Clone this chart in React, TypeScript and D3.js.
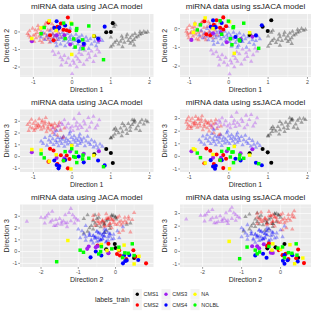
import React from "react";
import * as d3 from "d3";

type P3 = [number, number, number];

// ---------- JACA model: training samples (triangles) ----------
const jacaTrainCMS1: P3[] = [
  [1.0,-0.85,1.55],[1.05,-0.75,1.7],[1.1,-0.6,1.9],[1.0,-0.3,1.6],[1.08,0.3,2.3],[1.12,0.4,2.4],
  [1.15,-0.5,2.2],[1.2,-0.7,2.0],[1.25,-0.55,2.4],[1.3,-0.4,2.1],[1.35,-0.6,2.6],[1.4,-0.3,2.3],
  [1.45,-0.5,2.8],[1.5,-0.35,2.5],[1.55,-0.2,2.7],[1.6,-0.45,2.9],[1.62,-0.1,3.0],[1.7,-0.25,2.6],
  [1.75,0.0,2.9],[1.8,-0.1,3.1],[1.85,0.02,2.75],[1.9,-0.05,3.05],[1.95,0.0,2.95],[1.3,-0.85,2.8],
  [1.5,-0.65,2.2],[1.65,-0.3,2.35],[1.42,-0.15,1.95],[1.28,-0.25,1.75],[1.75,-0.15,2.2],[1.55,-0.55,3.1],
  [1.6,-0.75,3.1],
];
const jacaTrainCMS2: P3[] = [
  [-1.15,-0.1,2.7],[-1.1,0.05,2.9],[-1.08,-0.3,2.5],[-1.05,-0.45,3.15],[-1.02,0.2,2.4],[-1.0,-0.2,2.8],
  [-0.98,-0.55,2.2],[-0.95,0.1,3.0],[-0.93,-0.35,2.65],[-0.9,-0.05,2.45],[-0.88,0.35,2.75],[-0.85,-0.25,3.2],
  [-0.83,-0.5,2.55],[-0.8,0.0,2.3],[-0.78,-0.15,2.9],[-0.75,0.25,2.6],[-0.73,-0.4,2.4],[-0.7,-0.1,2.75],
  [-0.68,0.5,3.3],[-0.66,-0.3,2.1],[-0.63,0.1,2.5],[-0.6,-0.2,2.85],[-0.58,-0.6,2.7],[-0.55,0.15,2.25],
  [-0.53,-0.35,2.6],[-0.5,-0.1,2.0],[-0.48,0.3,2.45],[-0.45,-0.25,2.8],[-0.43,0.05,2.3],[-0.4,-0.45,2.55],
  [-0.38,0.2,1.8],[-0.35,-0.05,2.65],[-0.3,-0.3,2.2],[-0.25,0.1,1.6],[-0.2,-0.15,2.4],[-0.22,0.4,1.65],
  [-0.95,-0.15,2.35],[-0.87,0.15,2.6],[-0.7,0.35,2.95],[-0.62,-0.45,2.35],[-1.12,-0.2,2.2],[-0.77,-0.6,3.05],
  [-0.52,0.45,2.7],[-0.33,0.25,2.9],
];
const jacaTrainCMS3: P3[] = [
  [-0.5,-1.1,2.4],[-0.45,-1.3,2.1],[-0.35,-1.2,2.6],[-0.3,-1.45,2.3],[-0.25,-1.6,2.7],[-0.2,-1.35,3.1],
  [-0.15,-1.75,2.5],[-0.1,-1.5,2.8],[-0.05,-1.9,2.4],[0.0,-2.38,2.55],[0.02,-1.65,2.2],[0.05,-1.8,3.2],
  [0.1,-1.4,2.6],[0.12,-2.0,2.9],[0.15,-1.55,2.35],[0.18,-1.2,3.65],[0.2,-1.7,2.65],[0.25,-1.3,2.45],
  [0.3,-1.85,3.0],[0.33,-1.05,2.75],[0.38,-1.6,2.2],[0.42,-1.25,3.3],[0.45,-1.45,2.5],[0.5,-1.1,2.9],
  [0.55,-1.7,3.4],[0.6,-1.35,2.4],[0.65,-1.0,2.65],[0.7,-1.15,3.1],[-0.28,-1.9,2.85],
];
const jacaTrainCMS4: P3[] = [
  [-0.8,-0.3,1.3],[-0.75,-0.05,1.1],[-0.7,-0.45,1.6],[-0.65,-0.2,0.95],[-0.6,-0.35,1.4],[-0.57,0.05,1.75],
  [-0.55,-0.55,1.2],[-0.5,-0.15,1.5],[-0.48,-0.4,1.0],[-0.45,-0.25,1.85],[-0.42,-0.6,1.35],[-0.4,0.1,1.15],
  [-0.37,-0.3,1.6],[-0.35,-0.45,0.9],[-0.32,-0.15,1.3],[-0.3,-0.7,1.55],[-0.27,-0.35,1.1],[-0.25,-0.05,1.45],
  [-0.22,-0.5,1.7],[-0.2,-0.25,0.85],[-0.18,-0.8,1.25],[-0.15,-0.4,1.5],[-0.12,-0.1,1.05],[-0.1,-0.6,1.35],
  [-0.07,-0.3,1.9],[-0.05,-0.45,1.15],[-0.02,-0.2,1.6],[0.0,-0.65,1.0],[0.03,-0.35,1.4],[0.05,-0.9,1.75],
  [0.08,-0.5,1.2],[0.1,-0.15,1.5],[0.13,-0.4,0.95],[0.15,-0.7,1.35],[0.18,-0.3,1.65],[0.2,-0.55,1.1],
  [0.23,-0.85,1.45],[0.25,-0.2,1.25],[0.3,-0.45,1.55],[0.33,-0.65,0.9],[0.36,-0.3,1.3],[0.4,-0.5,1.7],
  [0.43,-0.95,1.15],[0.47,-0.4,1.0],[0.5,-0.7,1.4],[0.55,-0.25,0.8],[0.58,-0.55,1.25],[0.62,-0.8,0.95],
  [0.67,-0.6,0.7],[0.72,-0.35,1.05],[0.78,-0.5,0.85],[-0.05,0.2,2.1],[0.2,-1.0,1.9],[-0.4,-0.8,2.2],
];
// ---------- JACA model: test samples (labels_train) ----------
const jacaTestCMS1: P3[] = [[0.57,-0.25,0.2],[0.88,-0.02,0.65],[1.0,0.0,0.3],[1.05,0.5,-0.55]];
const jacaTestCMS2: P3[] = [
  [-0.11,0.82,-1.0],[-0.61,0.53,-0.43],[-0.29,0.48,0.12],[-0.07,0.04,-0.2],[-0.57,-0.19,0.66],
  [-0.48,-0.48,0.51],[-0.38,0.29,-0.63],[-0.22,0.12,-0.34],[-0.14,0.1,0.09],
];
const jacaTestCMS3: P3[] = [[-1.04,-0.53,0.37],[-0.4,-0.19,-0.11],[-0.05,-0.72,0.43],[0.3,-0.76,0.23],[0.69,-0.48,0.46],[-0.2,-0.19,-0.14]];
const jacaTestCMS4: P3[] = [
  [-0.4,0.61,-0.71],[-0.46,0.23,-0.34],[-0.35,0.2,-1.0],[-0.33,0.26,-0.8],[0.17,-0.53,0.0],
  [0.84,0.3,-0.75],[0.67,-0.38,-0.34],[0.3,-0.67,-0.49],[-0.18,0.37,-0.3],
];
const jacaTestNA: P3[] = [[-0.01,-1.28,0.94],[-1.04,-0.38,0.6],[-0.59,0.63,-0.4],[-0.8,0.23,0.55],[-0.41,0.08,0.15],[0.56,-0.23,0.09],[-0.03,0.5,-1.05]];
const jacaTestNOLBL: P3[] = [
  [-0.8,-0.1,0.23],[-0.72,0.25,-0.11],[-0.22,0.5,-0.34],[-0.01,0.45,0.66],[0.12,0.19,-0.51],[-0.18,-0.38,0.42],
  [0.04,-0.4,0.0],[0.08,-0.86,-0.06],[0.27,-0.45,-0.2],[0.43,0.34,-0.14],[0.28,-0.95,0.12],[0.81,-1.58,-0.86],[0.11,0.09,0.37],
];

// ---------- ssJACA model: training samples ----------
const ssTrainCMS1: P3[] = [
  [1.0,-0.95,1.6],[1.05,-0.8,1.75],[1.1,-0.65,1.95],[1.0,-0.4,1.65],[1.08,-0.2,2.2],[1.12,-0.1,2.35],
  [1.15,-0.55,2.15],[1.2,-0.75,2.0],[1.25,-0.6,2.35],[1.3,-0.45,2.1],[1.35,-0.65,2.55],[1.4,-0.35,2.25],
  [1.45,-0.55,2.7],[1.5,-0.4,2.45],[1.55,-0.25,2.65],[1.6,-0.5,2.85],[1.62,-0.15,2.95],[1.7,-0.3,2.55],
  [1.75,-0.05,2.85],[1.8,-0.15,3.0],[1.85,0.0,2.7],[1.9,-0.1,3.0],[1.95,-0.05,2.9],[1.3,-0.9,2.75],
  [1.5,-0.7,2.2],[1.65,-0.35,2.3],[1.42,-0.2,1.95],[1.28,-0.3,1.75],[1.75,-0.2,2.2],[1.55,-0.6,3.05],
  [1.6,-0.8,2.95],
];
const ssTrainCMS2: P3[] = [
  [-1.08,-0.15,2.7],[-1.06,0.0,2.9],[-1.04,-0.35,2.5],[-1.02,-0.5,3.1],[-1.0,0.15,2.4],[-0.98,-0.25,2.8],
  [-0.96,-0.6,2.2],[-0.93,0.05,3.0],[-0.91,-0.4,2.65],[-0.88,-0.1,2.45],[-0.86,0.3,2.75],[-0.84,-0.3,3.15],
  [-0.82,-0.55,2.55],[-0.8,-0.05,2.3],[-0.78,-0.2,2.9],[-0.75,0.2,2.6],[-0.73,-0.45,2.4],[-0.7,-0.15,2.75],
  [-0.68,0.35,3.2],[-0.66,-0.35,2.1],[-0.63,0.05,2.5],[-0.6,-0.25,2.85],[-0.58,-0.6,2.7],[-0.55,0.1,2.25],
  [-0.53,-0.4,2.6],[-0.5,-0.15,2.0],[-0.48,0.25,2.45],[-0.45,-0.3,2.8],[-0.43,0.0,2.3],[-0.4,-0.5,2.55],
  [-0.38,0.15,1.85],[-0.35,-0.1,2.65],[-0.3,-0.35,2.2],[-0.25,0.05,1.7],[-0.2,-0.2,2.4],[-0.22,0.3,1.75],
  [-0.95,-0.2,2.35],[-0.87,0.1,2.6],[-0.7,0.3,2.95],[-0.62,-0.5,2.35],[-1.05,-0.25,2.2],[-0.77,-0.6,3.0],
  [-0.52,0.35,2.7],[-0.33,0.2,2.9],
];
const ssTrainCMS3: P3[] = [
  [-0.45,-1.15,2.45],[-0.4,-1.35,2.2],[-0.32,-1.25,2.6],[-0.27,-1.5,2.35],[-0.22,-1.65,2.7],[-0.17,-1.4,3.05],
  [-0.12,-1.8,2.5],[-0.08,-1.55,2.8],[-0.03,-1.95,2.4],[0.02,-2.42,2.55],[0.04,-1.7,2.25],[0.07,-1.85,3.15],
  [0.12,-1.45,2.6],[0.14,-2.05,2.85],[0.17,-1.6,2.35],[0.2,-1.25,3.48],[0.22,-1.75,2.65],[0.27,-1.35,2.45],
  [0.32,-1.9,2.95],[0.35,-1.1,2.75],[0.4,-1.65,2.25],[0.44,-1.3,3.25],[0.47,-1.5,2.5],[0.52,-1.15,2.9],
  [0.57,-1.75,3.3],[0.62,-1.4,2.4],[0.67,-1.05,2.65],[0.72,-1.2,3.05],[-0.25,-1.95,2.85],
];
const ssTrainCMS4: P3[] = [
  [-0.75,-0.35,1.3],[-0.7,-0.1,1.1],[-0.66,-0.5,1.6],[-0.62,-0.25,0.95],[-0.58,-0.4,1.4],[-0.55,0.0,1.7],
  [-0.52,-0.6,1.2],[-0.48,-0.2,1.5],[-0.46,-0.45,1.0],[-0.43,-0.3,1.8],[-0.4,-0.65,1.35],[-0.38,0.05,1.15],
  [-0.35,-0.35,1.6],[-0.33,-0.5,0.9],[-0.3,-0.2,1.3],[-0.28,-0.75,1.55],[-0.25,-0.4,1.1],[-0.23,-0.1,1.45],
  [-0.2,-0.55,1.7],[-0.18,-0.3,0.85],[-0.16,-0.85,1.25],[-0.13,-0.45,1.5],[-0.1,-0.15,1.05],[-0.08,-0.65,1.35],
  [-0.05,-0.35,1.85],[-0.03,-0.5,1.15],[0.0,-0.25,1.6],[0.02,-0.7,1.0],[0.05,-0.4,1.4],[0.07,-0.95,1.7],
  [0.1,-0.55,1.2],[0.12,-0.2,1.5],[0.15,-0.45,0.95],[0.17,-0.75,1.35],[0.2,-0.35,1.65],[0.22,-0.6,1.1],
  [0.25,-0.9,1.45],[0.27,-0.25,1.25],[0.32,-0.5,1.55],[0.35,-0.7,0.9],[0.38,-0.35,1.3],[0.42,-0.55,1.65],
  [0.45,-1.0,1.15],[0.49,-0.45,1.0],[0.52,-0.75,1.4],[0.56,-0.3,0.8],[0.6,-0.6,1.25],[0.64,-0.85,0.95],
  [0.69,-0.65,0.7],[0.73,-0.4,1.05],[0.79,-0.55,0.85],[-0.03,0.1,2.0],[0.22,-1.0,1.85],[-0.38,-0.85,2.1],
];
// ---------- ssJACA model: test samples ----------
const ssTestCMS1: P3[] = [[0.53,-0.34,0.24],[0.86,0.1,0.58],[0.99,-0.13,0.32],[1.08,0.45,-0.5]];
const ssTestCMS2: P3[] = [
  [-0.14,0.6,-0.93],[-0.62,0.4,-0.55],[-0.31,0.45,0.15],[-0.07,0.13,-0.19],[-0.57,-0.3,0.62],
  [-0.47,-0.35,0.45],[-0.38,0.2,-0.6],[-0.22,0.05,-0.3],[-0.14,-0.05,0.1],
];
const ssTestCMS3: P3[] = [[-0.95,-0.6,0.4],[-0.4,-0.25,-0.1],[-0.05,-0.73,0.4],[0.3,-0.55,0.25],[0.6,-0.43,0.56],[-0.2,-0.2,-0.12]];
const ssTestCMS4: P3[] = [
  [-0.4,0.44,-0.8],[-0.46,0.1,-0.3],[-0.35,0.1,-0.98],[-0.33,0.06,-0.75],[0.17,-0.45,-0.19],
  [0.84,0.18,-0.7],[0.69,-0.36,-0.5],[0.3,-0.65,-0.32],[-0.18,0.3,-0.3],
];
const ssTestNA: P3[] = [[0.14,-1.32,0.79],[-0.9,-0.2,0.6],[-0.6,0.57,-0.53],[-0.86,0.24,0.53],[-0.4,0.0,0.15],[0.53,-0.22,0.1],[0.02,0.36,-0.98]];
const ssTestNOLBL: P3[] = [
  [-0.8,-0.07,0.26],[-0.72,0.2,-0.1],[-0.22,0.42,-0.3],[-0.01,0.4,0.6],[0.12,0.1,-0.5],[-0.18,-0.3,0.4],
  [0.04,-0.54,-0.05],[0.08,-0.86,0.34],[0.27,-0.6,-0.19],[0.38,0.29,-0.15],[0.28,-0.65,0.1],[0.76,-1.05,-0.58],[0.11,0.05,0.35],
];

// ---------- categories / axes ----------
const labels = ["CMS1", "CMS2", "CMS3", "CMS4", "NA", "NOLBL"];
const trainLabels = ["CMS1", "CMS2", "CMS3", "CMS4"];
const dimNames = ["Direction 1", "Direction 2", "Direction 3"];
const dimTicks = [[-1, 0, 1, 2], [-2, -1, 0], [-1, 0, 1, 2, 3]];
const jacaDomains: [number, number][] = [[-1.345, 2.1], [-2.565, 1.02], [-1.31, 4.0]];
const ssDomains: [number, number][] = [[-1.24, 2.09], [-2.58, 0.78], [-1.24, 3.72]];
const panelDims: [number, number][] = [[0, 1], [0, 2], [1, 2]];

const colors: Record<string, string> = {
  CMS1: "#000000", CMS2: "#FF0000", CMS3: "#A020F0", CMS4: "#0000FF", NA: "#FFFF00", NOLBL: "#00FF00",
};
const squareLabels = new Set(["NA", "NOLBL"]);

const models = [
  {
    title: "miRNA data using JACA model",
    domains: jacaDomains,
    train: [jacaTrainCMS1, jacaTrainCMS2, jacaTrainCMS3, jacaTrainCMS4],
    test: [jacaTestCMS1, jacaTestCMS2, jacaTestCMS3, jacaTestCMS4, jacaTestNA, jacaTestNOLBL],
  },
  {
    title: "miRNA data using ssJACA model",
    domains: ssDomains,
    train: [ssTrainCMS1, ssTrainCMS2, ssTrainCMS3, ssTrainCMS4],
    test: [ssTestCMS1, ssTestCMS2, ssTestCMS3, ssTestCMS4, ssTestNA, ssTestNOLBL],
  },
];

const FONT = "'Liberation Sans', Arial, Helvetica, sans-serif";
const TXT = "#1F1F1F";
const cols = [
  { x0: 20, x1: 153.5, yTitleX: 8.6 },
  { x0: 180, x1: 311, yTitleX: 167 },
];
const rows = [
  { y0: 14, y1: 77 },
  { y0: 109.5, y1: 172 },
  { y0: 204.5, y1: 267 },
];

const triPath = d3.symbol().type(d3.symbolTriangle).size(8.5)();
const circPath = d3.symbol().type(d3.symbolCircle).size(13)();
const sqPath = d3.symbol().type(d3.symbolSquare).size(12)();

function minorTicks(major: number[], dom: [number, number]) {
  const step = major[1] - major[0];
  const out: number[] = [];
  for (let i = -1; i < major.length; i++) {
    const v = major[0] + (i + 0.5) * step;
    if (v > dom[0] && v < dom[1]) out.push(v);
  }
  return out;
}

function Panel({ model, row, col }: { model: typeof models[0]; row: number; col: number }) {
  const [dx, dy] = panelDims[row];
  const c = cols[col];
  const r = rows[row];
  const x = d3.scaleLinear().domain(model.domains[dx]).range([c.x0, c.x1]);
  const y = d3.scaleLinear().domain(model.domains[dy]).range([r.y1, r.y0]);
  const xt = dimTicks[dx];
  const yt = dimTicks[dy];
  const xm = minorTicks(xt, model.domains[dx] as [number, number]);
  const ym = minorTicks(yt, model.domains[dy] as [number, number]);
  const cx = (c.x0 + c.x1) / 2;
  const cy = (r.y0 + r.y1) / 2;
  return (
    <g>
      <text x={cx} y={r.y0 - 4.8} textAnchor="middle" fontSize={8.1} fill={TXT} fontFamily={FONT}>
        {model.title}
      </text>
      <rect x={c.x0} y={r.y0} width={c.x1 - c.x0} height={r.y1 - r.y0} fill="#EBEBEB" />
      {xm.map((v) => (
        <line key={"xm" + v} x1={x(v)} x2={x(v)} y1={r.y0} y2={r.y1} stroke="#fff" strokeWidth={0.35} />
      ))}
      {ym.map((v) => (
        <line key={"ym" + v} y1={y(v)} y2={y(v)} x1={c.x0} x2={c.x1} stroke="#fff" strokeWidth={0.35} />
      ))}
      {xt.map((v) => (
        <line key={"xM" + v} x1={x(v)} x2={x(v)} y1={r.y0} y2={r.y1} stroke="#fff" strokeWidth={0.7} />
      ))}
      {yt.map((v) => (
        <line key={"yM" + v} y1={y(v)} y2={y(v)} x1={c.x0} x2={c.x1} stroke="#fff" strokeWidth={0.7} />
      ))}
      {model.train.map((pts, gi) =>
        pts.map((p, i) => (
          <path
            key={"t" + gi + "-" + i}
            d={triPath!}
            transform={`translate(${x(p[dx])},${y(p[dy])})`}
            fill={colors[trainLabels[gi]]}
            fillOpacity={0.32}
          />
        ))
      )}
      {model.test.map((pts, gi) =>
        pts.map((p, i) => (
          <path
            key={"s" + gi + "-" + i}
            d={squareLabels.has(labels[gi]) ? sqPath! : circPath!}
            transform={`translate(${x(p[dx])},${y(p[dy])})`}
            fill={colors[labels[gi]]}
          />
        ))
      )}
      {xt.map((v) => (
        <g key={"xt" + v}>
          <line x1={x(v)} x2={x(v)} y1={r.y1} y2={r.y1 + 1.8} stroke="#333" strokeWidth={0.5} />
          <text x={x(v)} y={r.y1 + 7.2} textAnchor="middle" fontSize={5.4} fill="#4D4D4D" fontFamily={FONT}>
            {String(v)}
          </text>
        </g>
      ))}
      {yt.map((v) => (
        <g key={"yt" + v}>
          <line x1={c.x0 - 1.8} x2={c.x0} y1={y(v)} y2={y(v)} stroke="#333" strokeWidth={0.5} />
          <text x={c.x0 - 2.8} y={y(v) + 1.9} textAnchor="end" fontSize={5.4} fill="#4D4D4D" fontFamily={FONT}>
            {String(v)}
          </text>
        </g>
      ))}
      <text x={cx} y={r.y1 + 15} textAnchor="middle" fontSize={7} fill={TXT} fontFamily={FONT}>
        {dimNames[dx]}
      </text>
      <text
        transform={`translate(${c.yTitleX},${cy}) rotate(-90)`}
        textAnchor="middle"
        fontSize={7}
        fill={TXT}
        fontFamily={FONT}
      >
        {dimNames[dy]}
      </text>
    </g>
  );
}

function Legend() {
  const colX = [137.3, 166, 195];
  const rowY = [294.3, 305];
  const order = [["CMS1", "CMS2"], ["CMS3", "CMS4"], ["NA", "NOLBL"]];
  const legendDot = d3.symbol().type(d3.symbolCircle).size(9)();
  return (
    <g>
      <text x={95} y={302.2} fontSize={6.8} fill={TXT} fontFamily={FONT}>
        labels_train
      </text>
      {order.map((pair, ci) =>
        pair.map((lab, ri) => (
          <g key={lab}>
            <rect x={colX[ci] - 4.5} y={rowY[ri] - 5.2} width={9} height={10.4} fill="#F2F2F2" />
            <path d={legendDot!} transform={`translate(${colX[ci]},${rowY[ri]})`} fill={colors[lab]} />
            <text x={colX[ci] + 6.3} y={rowY[ri] + 1.9} fontSize={5.4} fill={TXT} fontFamily={FONT}>
              {lab}
            </text>
          </g>
        ))
      )}
    </g>
  );
}

export default function App() {
  return (
    <svg
      width={315}
      height={315}
      viewBox="0 0 315 315"
      style={{ position: "absolute", left: 0, top: 0, background: "#fff" }}
    >
      <rect x={0} y={0} width={315} height={315} fill="#fff" />
      {rows.map((_, ri) =>
        models.map((m, ci) => <Panel key={ri + "-" + ci} model={m} row={ri} col={ci} />)
      )}
      <Legend />
    </svg>
  );
}
